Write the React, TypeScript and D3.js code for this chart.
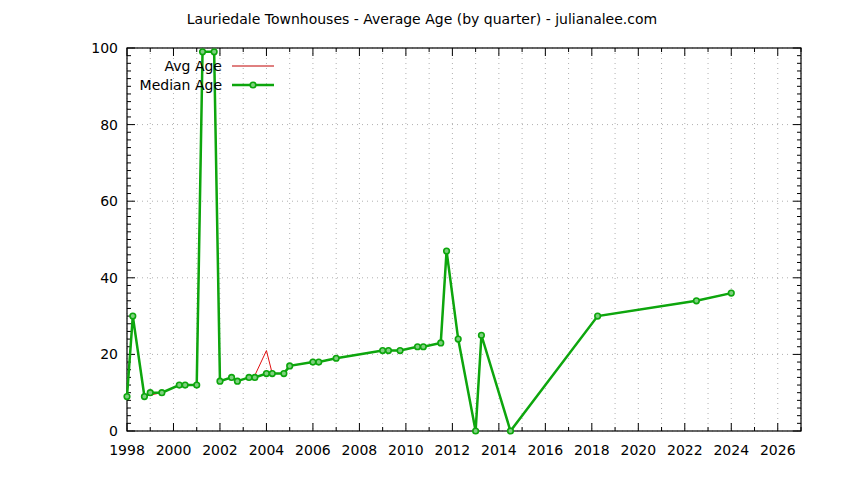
import { scaleLinear, line, range } from "d3";

// quarter dates (decimal years) and ages
const quarters = [
  1998.0, 1998.25, 1998.75, 1999.0, 1999.5, 2000.25, 2000.5, 2001.0, 2001.25, 2001.75,
  2002.0, 2002.5, 2002.75, 2003.25, 2003.5, 2004.0, 2004.25, 2004.75, 2005.0, 2006.0,
  2006.25, 2007.0, 2009.0, 2009.25, 2009.75, 2010.5, 2010.75, 2011.5, 2011.75, 2012.25,
  2013.0, 2013.25, 2014.5, 2018.25, 2022.5, 2024.0,
];
const medianAge = [
  9, 30, 9, 10, 10, 12, 12, 12, 99, 99,
  13, 14, 13, 14, 14, 15, 15, 15, 17, 18,
  18, 19, 21, 21, 21, 22, 22, 23, 47, 24,
  0, 25, 0, 30, 34, 36,
];
const avgAge = [
  9, 30, 9, 9.4, 10, 12, 12, 12, 99, 99,
  13, 14, 13, 14, 14.5, 21, 15, 15, 17, 18,
  18, 19, 21, 21, 21, 22, 22, 23, 47, 24,
  0, 25, 0, 30, 34, 36,
];
const xTicks = range(1998, 2027, 2);
const yTicks = [0, 20, 40, 60, 80, 100];

const title = "Lauriedale Townhouses - Average Age (by quarter) - julianalee.com";
const font = "DejaVu Sans, sans-serif";
const green = "#0da60d";
const red = "#e01010";

export default function App() {
  const left = 127, right = 801, top = 48, bottom = 431;
  const x = scaleLinear().domain([1998, 2027]).range([left, right]);
  const y = scaleLinear().domain([0, 100]).range([bottom, top]);

  const pts = (vals: number[]) => quarters.map((q, i) => [q, vals[i]] as [number, number]);
  const path = line<[number, number]>().x(d => x(d[0])).y(d => y(d[1]));

  const xMinor = range(1998, 2028, 1);
  const yMinor = range(0, 101, 2);

  return (
    <svg width={844} height={480} style={{ position: "absolute", left: 0, top: 0, background: "#fff" }}>
      <text x={422} y={24} textAnchor="middle" fontFamily={font} fontSize={14}>{title}</text>

      {/* grid */}
      {xMinor.map(v => (
        <line key={"gx" + v} x1={x(v)} x2={x(v)} y1={top} y2={bottom}
          stroke="#b0b0b0" strokeWidth={1} strokeDasharray="1,4" />
      ))}
      {yTicks.map(v => (
        <line key={"gy" + v} x1={left} x2={right} y1={y(v)} y2={y(v)}
          stroke="#b0b0b0" strokeWidth={1} strokeDasharray="1,4" />
      ))}

      {/* ticks */}
      {xMinor.map(v => {
        const len = v % 2 === 0 ? 8 : 4;
        return (
          <g key={"tx" + v}>
            <line x1={x(v)} x2={x(v)} y1={bottom} y2={bottom - len} stroke="#000" />
            <line x1={x(v)} x2={x(v)} y1={top} y2={top + len} stroke="#000" />
          </g>
        );
      })}
      {yMinor.map(v => {
        const len = v % 20 === 0 ? 8 : 4;
        return (
          <g key={"ty" + v}>
            <line x1={left} x2={left + len} y1={y(v)} y2={y(v)} stroke="#000" />
            <line x1={right} x2={right - len} y1={y(v)} y2={y(v)} stroke="#000" />
          </g>
        );
      })}

      <rect x={left} y={top} width={right - left} height={bottom - top} fill="none" stroke="#000" strokeWidth={1.2} />

      {xTicks.map(v => (
        <text key={"lx" + v} x={x(v)} y={bottom + 24} textAnchor="middle" fontFamily={font} fontSize={14}>{v}</text>
      ))}
      {yTicks.map(v => (
        <text key={"ly" + v} x={left - 9} y={y(v) + 5} textAnchor="end" fontFamily={font} fontSize={14}>{v}</text>
      ))}

      {/* series */}
      <path d={path(pts(avgAge)) ?? ""} fill="none" stroke={red} strokeWidth={1} />
      <path d={path(pts(medianAge)) ?? ""} fill="none" stroke={green} strokeWidth={2.5} />
      {pts(medianAge).map((d, i) => (
        <circle key={"p" + i} cx={x(d[0])} cy={y(d[1])} r={2.8} fill="#7fd07f" stroke={green} strokeWidth={1.6} />
      ))}

      {/* legend */}
      <text x={222} y={71} textAnchor="end" fontFamily={font} fontSize={14}>Avg Age</text>
      <line x1={232} x2={274} y1={66} y2={66} stroke="#c00000" strokeWidth={1} />
      <text x={222} y={90} textAnchor="end" fontFamily={font} fontSize={14}>Median Age</text>
      <line x1={232} x2={274} y1={85} y2={85} stroke={green} strokeWidth={2.5} />
      <circle cx={253} cy={85} r={2.8} fill="#7fd07f" stroke={green} strokeWidth={1.6} />
    </svg>
  );
}
